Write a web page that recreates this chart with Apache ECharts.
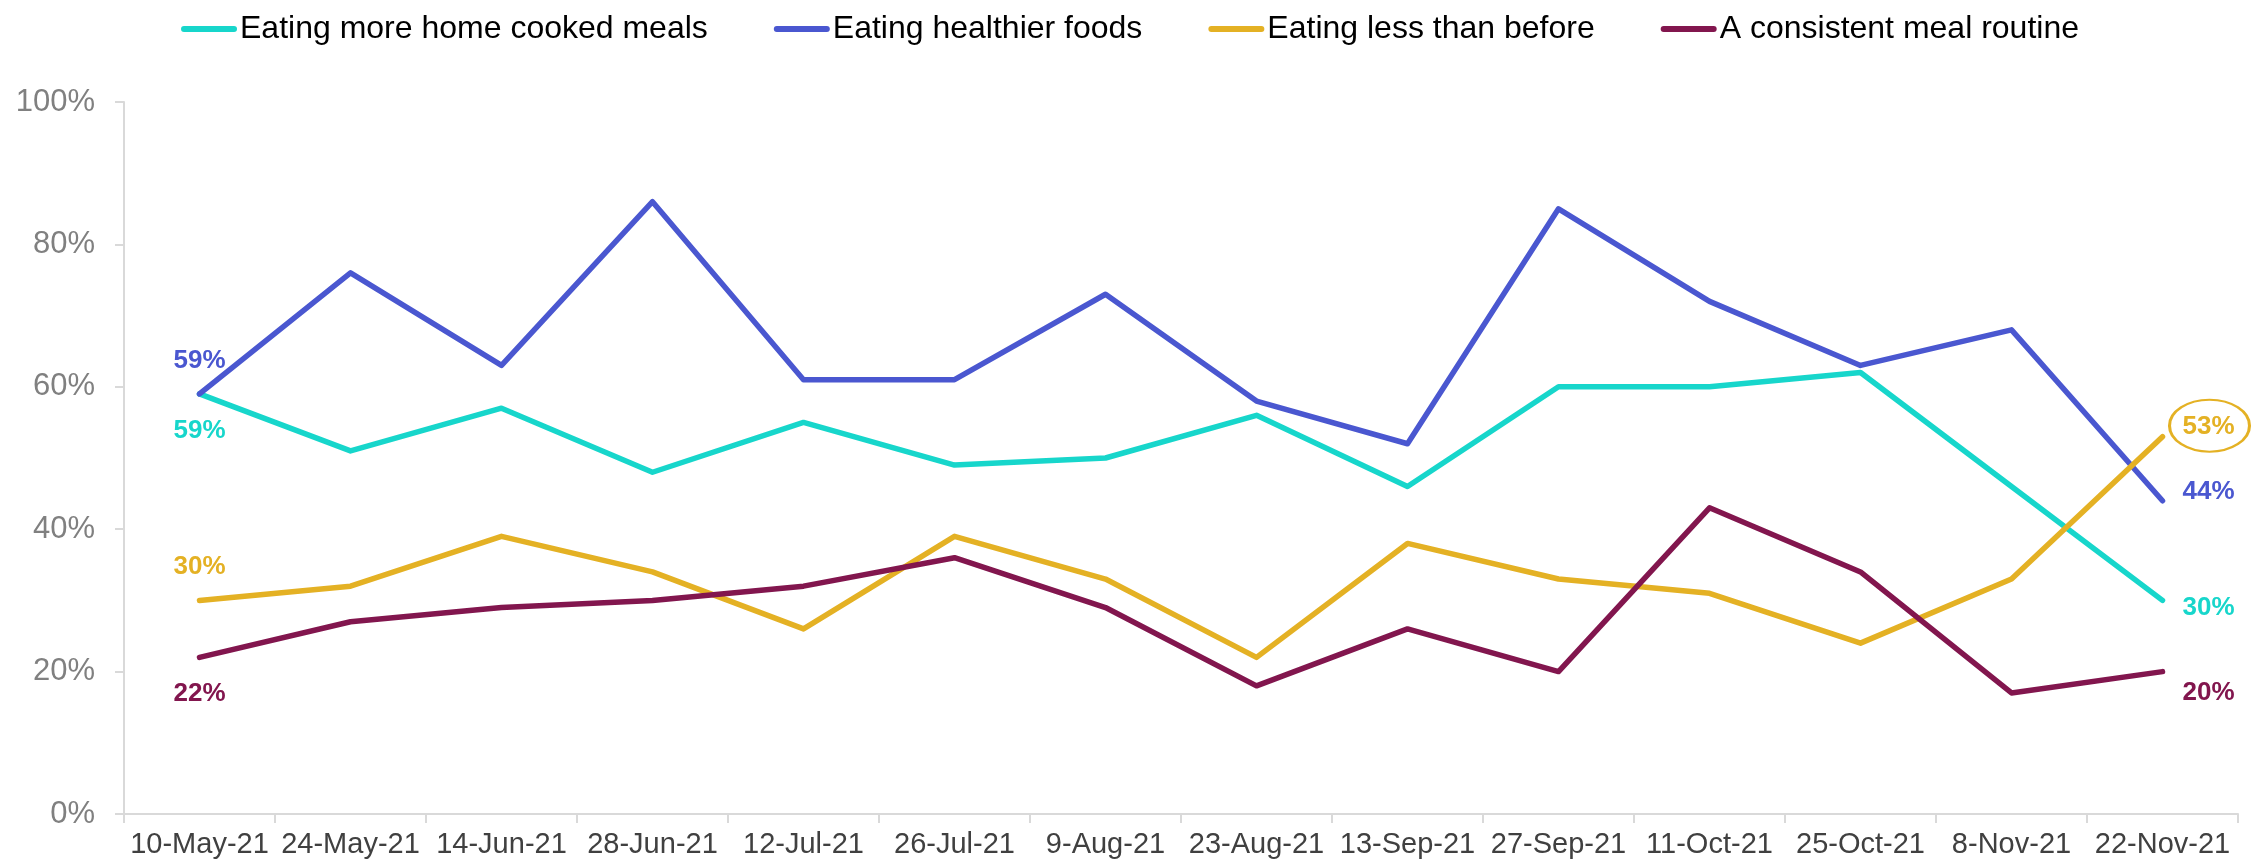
<!DOCTYPE html>
<html>
<head>
<meta charset="utf-8">
<title>Eating habits</title>
<script src="https://cdn.jsdelivr.net/npm/echarts@6/dist/echarts.min.js"></script>
<style>
  html, body { margin: 0; padding: 0; background: #ffffff; }
  #chart { width: 2260px; height: 864px; }
</style>
</head>
<body>
<div id="chart"></div>
<script>
// Survey waves
const categories = ['10-May-21', '24-May-21', '14-Jun-21', '28-Jun-21', '12-Jul-21', '26-Jul-21', '9-Aug-21',
  '23-Aug-21', '13-Sep-21', '27-Sep-21', '11-Oct-21', '25-Oct-21', '8-Nov-21', '22-Nov-21'];

// Share of respondents (%)
const homeCooked = [59, 51, 57, 48, 55, 49, 50, 56, 46, 60, 60, 62, 46, 30];
const healthier  = [59, 76, 63, 86, 61, 61, 73, 58, 52, 85, 72, 63, 68, 44];
const eatingLess = [30, 32, 39, 34, 26, 39, 33, 22, 38, 33, 31, 24, 33, 53];
const routine    = [22, 27, 29, 30, 32, 36, 29, 18, 26, 20, 43, 34, 17, 20];

const yTicks = [0, 20, 40, 60, 80, 100];

const seriesDefs = [
  { name: 'Eating more home cooked meals', data: homeCooked, color: '#17D6CB', first: ['bottom', 23], lastDy: 7 },
  { name: 'Eating healthier foods',        data: healthier,  color: '#4A57D0', first: ['top', 19],    lastDy: -9 },
  { name: 'Eating less than before',       data: eatingLess, color: '#E4B124', first: ['top', 20],    lastDy: -10 },
  { name: 'A consistent meal routine',     data: routine,    color: '#82164E', first: ['bottom', 22], lastDy: 21 }
];

const labelFont = { fontFamily: 'Liberation Sans, Arial, sans-serif', fontWeight: 'bold', fontSize: 26 };

// Only the first and the latest wave carry a value label
function buildData(def) {
  const last = def.data.length - 1;
  return def.data.map((v, i) => {
    if (i === 0) {
      return { value: v, label: Object.assign({
        show: true, position: def.first[0], distance: def.first[1], color: def.color,
        formatter: '{c}%'
      }, labelFont) };
    }
    if (i === last) {
      return { value: v, label: Object.assign({
        show: true, position: 'right', distance: 19, offset: [0, def.lastDy], color: def.color,
        formatter: '{c}%'
      }, labelFont) };
    }
    return { value: v };
  });
}

const series = seriesDefs.map(def => ({
  name: def.name,
  type: 'line',
  data: buildData(def),
  showSymbol: true,
  showAllSymbol: true,
  symbol: 'circle',
  symbolSize: 2,
  itemStyle: { color: 'rgba(0,0,0,0)', borderWidth: 0 },
  label: { show: false },
  lineStyle: { width: 5.5, color: def.color, cap: 'round', join: 'round' },
  emphasis: { disabled: true },
  animation: false
}));

// Highlight ring around the latest "Eating less than before" value
const lessIdx = 2;
const lastCat = categories[categories.length - 1];
const lastLess = eatingLess[eatingLess.length - 1];
series[lessIdx].markPoint = {
  symbol: 'circle',
  symbolSize: [80, 52],
  symbolOffset: [47, -11],
  silent: true,
  itemStyle: { color: 'rgba(0,0,0,0)', borderColor: '#E4B124', borderWidth: 2.5 },
  label: { show: false },
  data: [{ coord: [lastCat, lastLess] }]
};

const chart = echarts.init(document.getElementById('chart'), null, { renderer: 'canvas' });
chart.setOption({
  backgroundColor: '#ffffff',
  animation: false,
  legend: {
    top: 8,
    left: 'center',
    itemWidth: 56,
    itemHeight: 6,
    itemGap: 66,
    icon: 'path://M3,0 H53 A3,3 0 0 1 53,6 H3 A3,3 0 0 1 3,0 Z',
    textStyle: { fontFamily: 'Liberation Sans, Arial, sans-serif', fontSize: 32, color: '#000000', padding: [0, 0, 0, -2] },
    data: seriesDefs.map(d => ({ name: d.name, itemStyle: { color: d.color } }))
  },
  grid: { left: 124, right: 22, top: 102, bottom: 50, containLabel: false },
  xAxis: {
    type: 'category',
    data: categories,
    boundaryGap: true,
    axisLine: { show: true, lineStyle: { color: '#D9D9D9', width: 2 } },
    axisTick: { show: true, length: 9, lineStyle: { color: '#D9D9D9', width: 2 } },
    axisLabel: { margin: 16, fontFamily: 'Liberation Sans, Arial, sans-serif', fontSize: 29, color: '#404040', interval: 0 },
    splitLine: { show: false }
  },
  yAxis: {
    type: 'value',
    min: yTicks[0],
    max: yTicks[yTicks.length - 1],
    interval: yTicks[1] - yTicks[0],
    axisLine: { show: true, lineStyle: { color: '#D9D9D9', width: 2 } },
    axisTick: { show: true, length: 9, lineStyle: { color: '#D9D9D9', width: 2 } },
    axisLabel: { margin: 29, fontFamily: 'Liberation Sans, Arial, sans-serif', fontSize: 31, color: '#808080', formatter: '{value}%' },
    splitLine: { show: false }
  },
  series: series
});
</script>
</body>
</html>
